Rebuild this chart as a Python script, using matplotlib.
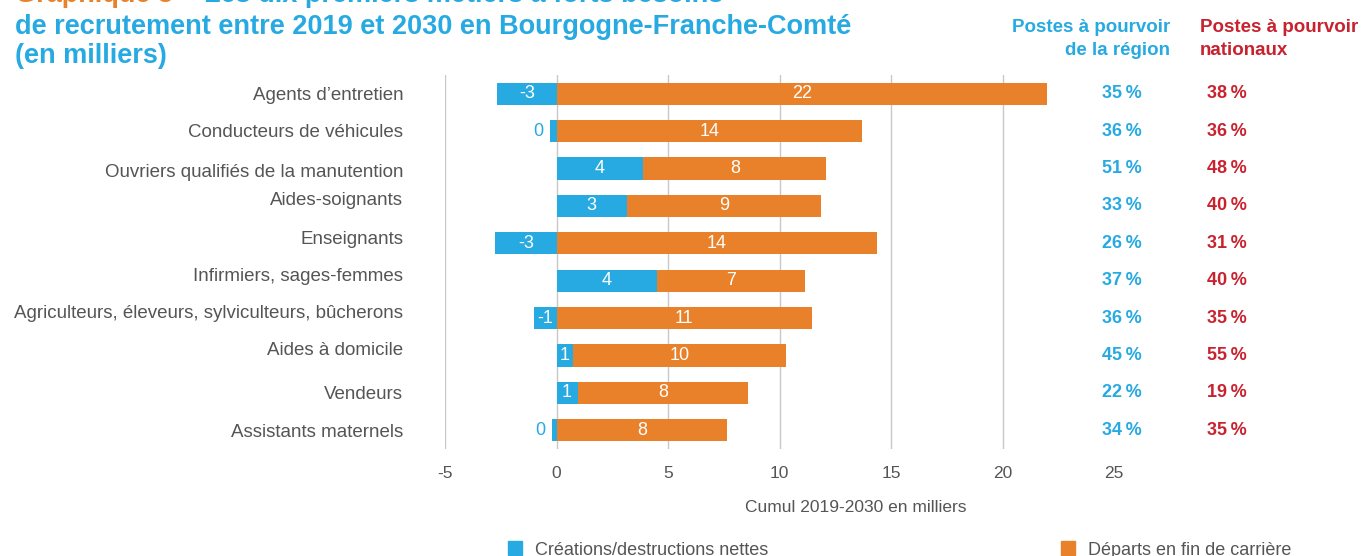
import matplotlib.pyplot as plt
import matplotlib.transforms as mtransforms
from matplotlib.patches import Patch

# Data (thousands, cumulated 2019-2030)
categories = [
    "Agents d’entretien",
    "Conducteurs de véhicules",
    "Ouvriers qualifiés de la manutention",
    "Aides-soignants",
    "Enseignants",
    "Infirmiers, sages-femmes",
    "Agriculteurs, éleveurs, sylviculteurs, bûcherons",
    "Aides à domicile",
    "Vendeurs",
    "Assistants maternels",
]
creations = [-2.65, -0.3, 3.9, 3.15, -2.75, 4.5, -1.0, 0.75, 0.95, -0.2]
departs = [22.0, 13.7, 8.2, 8.7, 14.35, 6.65, 11.45, 9.55, 7.65, 7.65]
pct_region = [35, 36, 51, 33, 26, 37, 36, 45, 22, 34]
pct_national = [38, 36, 48, 40, 31, 40, 35, 55, 19, 35]
xticks = [-5, 0, 5, 10, 15, 20, 25]

BLUE = "#27aae1"
ORANGE = "#e8812a"
RED = "#c8222f"
GREY = "#555555"
W, H = 1361, 556

plt.rcParams["font.family"] = ["Liberation Sans", "DejaVu Sans"]

fig = plt.figure(figsize=(W / 100, H / 100), dpi=100)
ax = fig.add_axes([445 / W, 1 - 449 / H, 669 / W, 374 / H])

y = list(range(len(categories)))
# orange segment starts after the blue one when blue is positive, else at 0
starts = [max(c, 0) for c in creations]
ax.barh(y, creations, height=0.59, color=BLUE, zorder=2)
ax.barh(y, departs, left=starts, height=0.59, color=ORANGE, zorder=2)

for i, (c, d, s) in enumerate(zip(creations, departs, starts)):
    if abs(c) < 0.5:
        ax.text(min(c, 0) - 0.3, i, f"{round(c):d}", color=BLUE, ha="right",
                va="center", fontsize=13)
    else:
        ax.text(c / 2, i, f"{round(c):d}", color="white", ha="center",
                va="center", fontsize=13)
    ax.text(s + d / 2, i, f"{round(d):d}", color="white", ha="center",
            va="center", fontsize=13)

tr = ax.get_yaxis_transform()
for i, (pr, pn) in enumerate(zip(pct_region, pct_national)):
    ax.text(0.982, i, f"{pr}\u2009%", transform=tr, color=BLUE, ha="left",
            va="center", fontsize=13, fontweight="bold", clip_on=False)
    ax.text(1.139, i, f"{pn}\u2009%", transform=tr, color=RED, ha="left",
            va="center", fontsize=13, fontweight="bold", clip_on=False)

ax.set_xlim(-5, 25)
ax.set_ylim(len(categories) - 0.5, -0.5)
for x in xticks[:-1]:
    ax.axvline(x, color="#c8c8c8", linewidth=1, zorder=1)
ax.set_xticks(xticks)
ax.set_xticklabels([str(t) for t in xticks])
ax.set_yticks(y)
ax.set_yticklabels(categories)
ax.tick_params(axis="x", length=0, pad=12, labelsize=12.5, labelcolor=GREY)
ax.tick_params(axis="y", length=0, pad=30, labelsize=13.5, labelcolor=GREY)
for sp in ax.spines.values():
    sp.set_visible(False)

# in the original some category labels sit a few pixels above their bar
nudge_px = [0, -1, 2, -7, -6, -6, -7, -7, 0, 0]
for lab, dy in zip(ax.get_yticklabels(), nudge_px):
    off = mtransforms.ScaledTranslation(0, -dy / 100, fig.dpi_scale_trans)
    lab.set_transform(lab.get_transform() + off)

fig.text(856 / W, 1 - 507 / H, "Cumul 2019-2030 en milliers", ha="center",
         va="center", fontsize=12.5, color=GREY)

# title (first line is cut by the top edge in the reference)
fig.text(15 / W, 1 - 2 / H, "Graphique 3 –", color=ORANGE, fontsize=19.5,
         fontweight="bold", va="baseline")
fig.text(204 / W, 1 - 2 / H, "Les dix premiers métiers à forts besoins",
         color=BLUE, fontsize=19.5, fontweight="bold", va="baseline")
fig.text(15 / W, 1 - 34 / H,
         "de recrutement entre 2019 et 2030 en Bourgogne-Franche-Comté",
         color=BLUE, fontsize=19.5, fontweight="bold", va="baseline")
fig.text(15 / W, 1 - 63 / H, "(en milliers)", color=BLUE, fontsize=19.5,
         fontweight="bold", va="baseline")

fig.text(1170 / W, 1 - 19 / H, "Postes à pourvoir\nde la région", color=BLUE,
         fontsize=13.5, fontweight="bold", ha="right", va="top",
         multialignment="right", linespacing=1.45)
fig.text(1200 / W, 1 - 19 / H, "Postes à pourvoir\nnationaux", color=RED,
         fontsize=13.5, fontweight="bold", ha="left", va="top",
         linespacing=1.45)

handles = [Patch(color=BLUE, label="Créations/destructions nettes"),
           Patch(color=ORANGE, label="Départs en fin de carrière")]
fig.legend(handles=handles, ncol=2, loc="center left",
           bbox_to_anchor=(508 / W, 1 - 550 / H), frameon=False,
           fontsize=13, labelcolor=GREY, handlelength=0.8,
           handleheight=0.8, handletextpad=0.7, columnspacing=16.2,
           borderaxespad=0, borderpad=0)

fig.savefig("out.png", dpi=100)
